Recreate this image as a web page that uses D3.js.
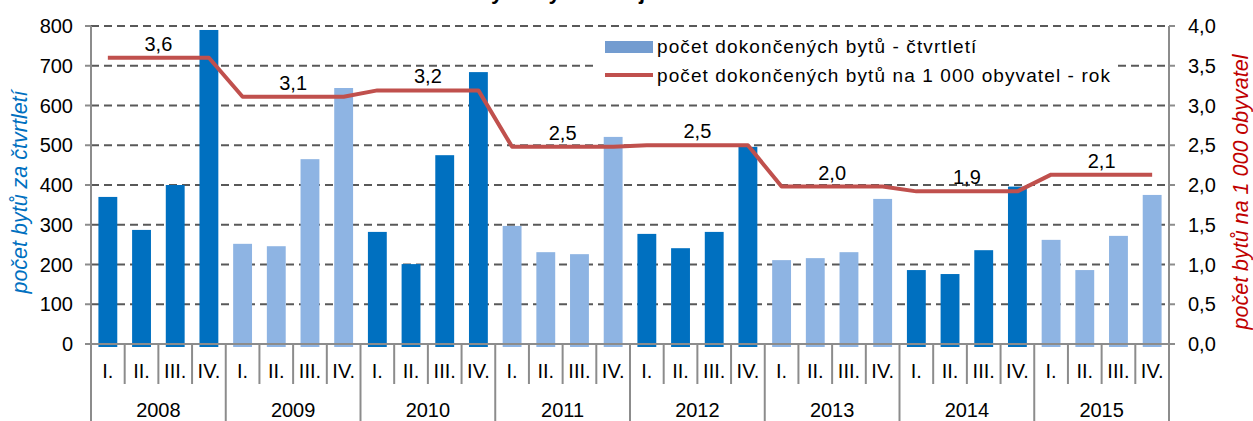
<!DOCTYPE html>
<html>
  <head>
    <meta charset="utf-8">
    <title>Dokončené byty</title>
    <style>
      body { margin: 0; background: #fff; }
      svg { display: block; font-family: Arial, "Liberation Sans", sans-serif; }
      .tick-lbl { font-size: 20px; fill: #000; }
      .grid { stroke: #595959; stroke-width: 2; stroke-dasharray: 8,5; }
      .axis-line { stroke: #8c8c8c; stroke-width: 2; }
      .legend { font-size: 19px; letter-spacing: 1.1px; }
      .ax-title { font-size: 21.5px; font-style: italic; }
    </style>
  </head>
  <body>
    <div id="chart"></div>
    <script src="https://d3js.org/d3.v7.min.js"></script>
    <script>
    // data
    var years = ['2008', '2009', '2010', '2011', '2012', '2013', '2014', '2015'];
    var quarters = ['I.', 'II.', 'III.', 'IV.'];
    var bytyCtvrtleti = [370, 287, 400, 790,  252, 246, 465, 644,
                         282, 201, 475, 684,  297, 231, 226, 521,
                         277, 241, 282, 496,  211, 216, 231, 365,
                         186, 176, 236, 396,  262, 186, 272, 375];
    var bytyNa1000 = [3.60, 3.11, 3.19, 2.48, 2.50, 1.98, 1.92, 2.13];
    var leftTicks = [0, 100, 200, 300, 400, 500, 600, 700, 800];
    var rightTicks = [0, 0.5, 1, 1.5, 2, 2.5, 3, 3.5, 4];

    var W = 1253, H = 421;
    var plotL = 91, plotR = 1169, plotT = 26, plotB = 344;

    // one row per quarter
    var rows = [];
    years.forEach(function(yr, yi) {
      quarters.forEach(function(q, qi) {
        rows.push({ year: yr, yi: yi, q: q, val: bytyCtvrtleti[yi * 4 + qi], rate: bytyNa1000[yi] });
      });
    });

    var svg = d3.select('#chart').append('svg')
      .attr('width', W).attr('height', H);

    var x = d3.scaleBand()
      .domain(d3.range(rows.length))
      .range([plotL, plotR])
      .paddingInner(0.44).paddingOuter(0.22);
    var step = (plotR - plotL) / rows.length;
    var y = d3.scaleLinear().domain([0, 800]).range([plotB, plotT]);
    var y2 = d3.scaleLinear().domain([0, 4]).range([plotB, plotT]);

    // title, cut off by the top edge
    svg.append('text')
      .attr('x', 600).attr('y', -1)
      .attr('text-anchor', 'middle')
      .style('font-size', '22px').style('font-weight', 'bold')
      .text('Počet dokončených bytů v kraji v letech 2008 až 2015');

    // gridlines
    svg.append('g').selectAll('line')
      .data(leftTicks.filter(function(d) { return d > 0; }))
      .join('line')
      .attr('class', 'grid')
      .attr('x1', plotL).attr('x2', plotR)
      .attr('y1', function(d) { return y(d); })
      .attr('y2', function(d) { return y(d); });

    // bars
    svg.append('g').selectAll('rect')
      .data(rows)
      .join('rect')
      .attr('x', function(d, i) { return x(i); })
      .attr('width', x.bandwidth())
      .attr('y', function(d) { return y(d.val); })
      .attr('height', function(d) { return plotB - y(d.val) + 3; })
      .attr('fill', function(d) { return d.yi % 2 == 0 ? '#0070C0' : '#8EB4E3'; });

    // line per 1000 inhabitants
    var line = d3.line()
      .x(function(d, i) { return x(i) + x.bandwidth() / 2; })
      .y(function(d) { return y2(d.rate); });
    svg.append('path')
      .datum(rows)
      .attr('d', line)
      .attr('fill', 'none')
      .attr('stroke', '#C0504D')
      .attr('stroke-width', 4)
      .attr('stroke-linejoin', 'round');

    // year value labels
    var fmt = d3.format('.1f');
    svg.append('g').selectAll('text')
      .data(bytyNa1000)
      .join('text')
      .attr('class', 'tick-lbl')
      .attr('text-anchor', 'middle')
      .attr('x', function(d, i) { return plotL + step * (i * 4 + 2); })
      .attr('y', function(d) { return y2(d) - 7; })
      .text(function(d) { return fmt(d).replace('.', ','); });

    // left axis
    var gl = svg.append('g');
    gl.append('line').attr('class', 'axis-line')
      .attr('x1', plotL).attr('x2', plotL).attr('y1', plotT).attr('y2', H);
    gl.selectAll('.tk').data(leftTicks).join('line')
      .attr('class', 'axis-line tk')
      .attr('x1', plotL - 6).attr('x2', plotL)
      .attr('y1', function(d) { return y(d); })
      .attr('y2', function(d) { return y(d); });
    gl.selectAll('text').data(leftTicks).join('text')
      .attr('class', 'tick-lbl')
      .attr('text-anchor', 'end')
      .attr('x', 73)
      .attr('y', function(d) { return y(d) + 7; })
      .text(function(d) { return d; });

    // right axis
    var gr = svg.append('g');
    gr.append('line').attr('class', 'axis-line')
      .attr('x1', plotR).attr('x2', plotR).attr('y1', plotT).attr('y2', H);
    gr.selectAll('.tk').data(rightTicks).join('line')
      .attr('class', 'axis-line tk')
      .attr('x1', plotR).attr('x2', plotR + 6)
      .attr('y1', function(d) { return y2(d); })
      .attr('y2', function(d) { return y2(d); });
    gr.selectAll('text').data(rightTicks).join('text')
      .attr('class', 'tick-lbl')
      .attr('x', 1188)
      .attr('y', function(d) { return y2(d) + 7; })
      .text(function(d) { return fmt(d).replace('.', ','); });

    // category axis: quarters and years
    var gx = svg.append('g');
    gx.append('line').attr('class', 'axis-line')
      .attr('x1', plotL).attr('x2', plotR).attr('y1', plotB).attr('y2', plotB);
    gx.selectAll('.sep').data(d3.range(1, rows.length)).join('line')
      .attr('class', 'axis-line sep')
      .attr('x1', function(i) { return plotL + step * i; })
      .attr('x2', function(i) { return plotL + step * i; })
      .attr('y1', plotB)
      .attr('y2', function(i) { return i % 4 == 0 ? H : 384; });
    gx.selectAll('.q').data(rows).join('text')
      .attr('class', 'tick-lbl q')
      .attr('text-anchor', 'middle')
      .attr('x', function(d, i) { return plotL + step * (i + 0.5); })
      .attr('y', 378)
      .text(function(d) { return d.q; });
    gx.selectAll('.yr').data(years).join('text')
      .attr('class', 'tick-lbl yr')
      .attr('text-anchor', 'middle')
      .attr('x', function(d, i) { return plotL + step * (i * 4 + 2); })
      .attr('y', 417)
      .text(function(d) { return d; });

    // axis titles
    svg.append('text')
      .attr('class', 'ax-title')
      .attr('transform', 'translate(27,192) rotate(-90)')
      .attr('text-anchor', 'middle')
      .style('fill', '#0070C0')
      .text('počet  bytů za čtvrtletí');
    svg.append('text')
      .attr('class', 'ax-title')
      .attr('transform', 'translate(1248,192) rotate(-90)')
      .attr('text-anchor', 'middle')
      .style('fill', '#C00000')
      .text('počet  bytů na 1 000 obyvatel');

    // legend
    var lg = svg.append('g').attr('class', 'legend');
    lg.append('rect').attr('x', 597).attr('y', 33).attr('width', 520).attr('height', 56).attr('fill', '#fff');
    lg.append('rect').attr('x', 605).attr('y', 41).attr('width', 48).attr('height', 12).attr('fill', '#739CD0');
    lg.append('text').attr('x', 657).attr('y', 53).text('počet dokončených bytů - čtvrtletí');
    lg.append('line').attr('x1', 605).attr('x2', 653).attr('y1', 75).attr('y2', 75)
      .attr('stroke', '#C0504D').attr('stroke-width', 4);
    lg.append('text').attr('x', 657).attr('y', 82).text('počet dokončených bytů na 1 000 obyvatel - rok');
    </script>
  </body>
</html>
